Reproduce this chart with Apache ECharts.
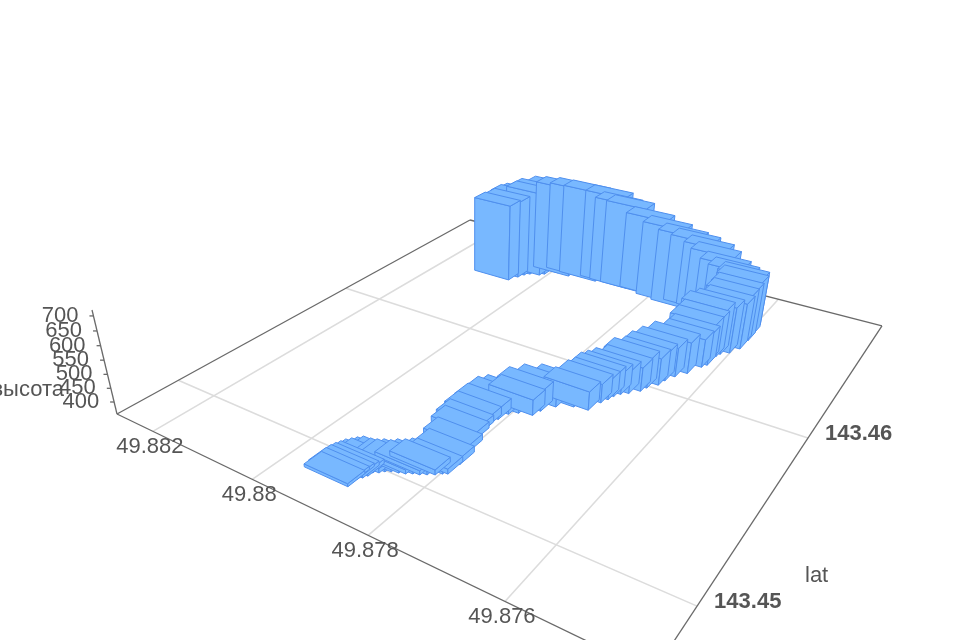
<!DOCTYPE html>
<html><head><meta charset="utf-8">
<style>html,body{margin:0;background:#fff}#c{width:960px;height:640px;filter:blur(0.6px)}</style>
<script src="https://cdn.jsdelivr.net/npm/echarts@6/dist/echarts.min.js"></script></head>
<body><div id="c"></div>
<script>
const lngValues=[49.87923,49.87924,49.87923,49.87919,49.87916,49.87915,49.87908,49.87903,49.87896,49.87886,49.87877,49.87869,49.8786,49.87852,49.87843,49.87836,49.8783,49.87829,49.87836,49.87845,49.87848,49.87849,49.87846,49.87841,49.8783,49.8781,49.87806,49.87793,49.87771,49.87749,49.87743,49.87738,49.87735,49.87729,49.8772,49.87708,49.87704,49.87693,49.8769,49.87682,49.8767,49.87659,49.87654,49.87656,49.87653,49.8765,49.87639,49.8763,49.87631,49.87629,49.8763,49.87632,49.8765,49.8767,49.87693,49.87708,49.87734,49.87753,49.87786,49.87824,49.87864,49.87887,49.87908,49.8795,49.8798,49.88003,49.88027,49.88045,49.88051,49.88068,49.88075,49.8808,49.88088];
const latValues=[143.44904,143.44931,143.44954,143.44968,143.44986,143.45009,143.45021,143.45037,143.45049,143.45058,143.45067,143.45081,143.4509,143.45104,143.45119,143.45137,143.45147,143.45214,143.45291,143.45368,143.4541,143.45466,143.45521,143.45571,143.45598,143.45615,143.45656,143.45713,143.45751,143.45762,143.45834,143.45869,143.45901,143.4593,143.45953,143.45993,143.46028,143.46073,143.46117,143.46168,143.46219,143.46297,143.46325,143.46371,143.4641,143.46439,143.4647,143.46527,143.46578,143.46615,143.46678,143.46696,143.467,143.46733,143.46762,143.46769,143.46774,143.46742,143.46759,143.46784,143.4678,143.46781,143.46785,143.46768,143.46773,143.46746,143.46749,143.467,143.46677,143.46661,143.46636,143.466,143.46548];
const heightValues=[366,366,366,370,370,366,370,370,373,370,370,370,370,373,373,373,373,377,377,378,381,385,393,401,404,412,427,423,423,423,424,424,432,432,439,443,459,455,460,464,472,461,473,490,500,525,530,530,540,550,558,565,572,574,592,609,622,642,652,663,694,696,714,720,716,717,708,703,696,683,681,672,666];
const lngTicks=[49.882,49.88,49.878,49.876];
const lngTickLabels=['49.882','49.88','49.878','49.876'];
const latTicks=[143.45,143.46];
const latTickLabels=['143.45','143.46'];
const zTicks=[400,450,500,550,600,650,700];
const zTickLabels=['400','450','500','550','600','650','700'];
const a=341.2,b=572.4,c=117,d=58.2,e=-91.3,f=414,g=-0.2983,h=0.4668,VX=474,VY=1900,KZ=-0.0654;
const LNGA=49.8828,LNGK=116,LNGB=LNGA-1/LNGK,LAT0=143.4471,LATR=0.02315,LATB=LAT0+LATR,ZMIN=355.4,ZR=364,ZMAX=ZMIN+ZR;
function P(lng,lat,z){const s=(LNGA-lng)*LNGK,t=(lat-LAT0)/LATR,Z=KZ*(z-ZMIN)/ZR,w=g*s+h*t+1+Z;
 return [(a*s+b*t+c+Z*VX)/w,(d*s+e*t+f+Z*VY)/w];}
const hx=0.045/LNGK,hy=0.019*LATR;
const depth=(lng,lat)=>g*(LNGA-lng)*LNGK+h*(lat-LAT0)/LATR;
const bars=lngValues.map((v,i)=>[v,latValues[i],heightValues[i]]).sort((p,q)=>depth(q[0],q[1])-depth(p[0],p[1]));
const barStyle={fill:'#78b8ff',stroke:'#4f8fee',lineWidth:1};
const gridLine={stroke:'#dcdcdc',lineWidth:1.6};
const axisLine={stroke:'#6a6a6a',lineWidth:1.3};
const FONT='"Liberation Sans",Arial,sans-serif';
const seg=(p,q,style)=>({type:'line',shape:{x1:p[0],y1:p[1],x2:q[0],y2:q[1]},style});
const txt=(s,x,y,align,extra)=>({type:'text',style:Object.assign({text:s,x,y,align,verticalAlign:'middle',font:'22px '+FONT,fill:'#555'},extra||{})});
const ch=echarts.init(document.getElementById('c'),null,{renderer:'canvas'});
const custom=(data,renderItem)=>({type:'custom',coordinateSystem:'none',clip:false,silent:true,data,renderItem});
ch.setOption({animation:false,series:[
 custom(lngTicks,(p,api)=>{const v=api.value(0);return seg(P(v,LAT0,ZMIN),P(v,LATB,ZMIN),gridLine);}),
 custom(latTicks,(p,api)=>{const v=api.value(0);return seg(P(LNGA,v,ZMIN),P(LNGB,v,ZMIN),gridLine);}),
 custom([[LNGA,LAT0,LNGB,LAT0],[LNGB,LAT0,LNGB,LATB],[LNGB,LATB,LNGA,LATB],[LNGA,LATB,LNGA,LAT0]],(p,api)=>seg(P(api.value(0),api.value(1),ZMIN),P(api.value(2),api.value(3),ZMIN),axisLine)),
 custom(bars,(p,api)=>{
  const lng=api.value(0),lat=api.value(1),z=api.value(2);
  const x0=lng+hx,x1=lng-hx,y0=lat-hy,y1=lat+hy;
  const pg=pts=>({type:'polygon',shape:{points:pts},style:barStyle});
  return {type:'group',children:[
   pg([P(x0,y0,ZMIN),P(x1,y0,ZMIN),P(x1,y0,z),P(x0,y0,z)]),
   pg([P(x1,y0,ZMIN),P(x1,y1,ZMIN),P(x1,y1,z),P(x1,y0,z)]),
   pg([P(x0,y0,z),P(x1,y0,z),P(x1,y1,z),P(x0,y1,z)])]};
 }),
 custom(lngTicks,(p,api)=>{const q=P(api.value(0),LAT0,ZMIN);return txt(lngTickLabels[p.dataIndex],q[0]-3,q[1]+15.5,'center');}),
 custom(latTicks,(p,api)=>{const q=P(LNGB,api.value(0),ZMIN);return txt(latTickLabels[p.dataIndex],q[0]+17,q[1]-4,'left',{font:'bold 22px '+FONT});}),
 custom(zTicks,(p,api)=>{const q=P(LNGA,LAT0,api.value(0));return {type:'group',children:[
   seg([q[0]-4,q[1]],q,axisLine),txt(zTickLabels[p.dataIndex],q[0]-15,q[1],'right')]};}),
 custom([0],()=>({type:'group',children:[
   seg(P(LNGA,LAT0,ZMIN),P(LNGA,LAT0,ZMAX),axisLine),
   txt('высота',64,390,'right'),
   txt('lat',805,576,'left')]}))
]});
</script></body></html>
